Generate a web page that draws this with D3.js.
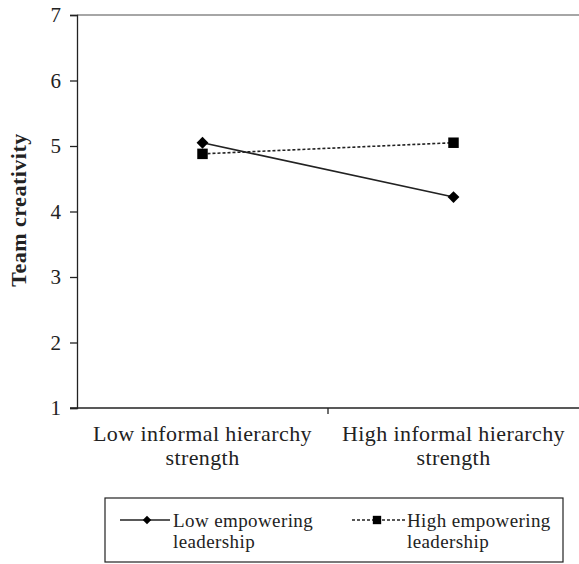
<!DOCTYPE html>
<html><head><meta charset="utf-8">
<script src="https://cdn.jsdelivr.net/npm/d3@7"></script>
<style>body{margin:0;background:#fff}svg{display:block}svg text{font-family:"Liberation Serif","DejaVu Serif",serif}</style>
</head><body>
<script>
const categories = ["Low informal hierarchy strength", "High informal hierarchy strength"];
const categoryLines = [["Low informal hierarchy", "strength"], ["High informal hierarchy", "strength"]];
const lowEmpowering = [5.05, 4.22];
const highEmpowering = [4.88, 5.05];
const seriesNames = [["Low empowering", "leadership"], ["High empowering", "leadership"]];
const yTicks = [1, 2, 3, 4, 5, 6, 7];

const W = 579, H = 564;
const svg = d3.select("body").append("svg").attr("width", W).attr("height", H);
const font = "Liberation Serif, DejaVu Serif, serif";
const pLeft = 77, pRight = 579, pTop = 15, pBottom = 408;

const x = d3.scaleBand().domain(categories).range([pLeft, pRight]);
const y = d3.scaleLinear().domain([1, 7]).range([pBottom, pTop]);

svg.append("line").attr("x1", pLeft).attr("x2", pRight).attr("y1", y(7)).attr("y2", y(7))
  .attr("stroke", "#888").attr("stroke-width", 1.5);

const yAxis = svg.append("g").attr("transform", `translate(${pLeft},0)`)
  .call(d3.axisLeft(y).tickValues(yTicks).tickSize(7).tickPadding(9).tickFormat(d3.format("d")));
yAxis.attr("font-family", null);
yAxis.select(".domain").attr("stroke", "#222").attr("stroke-width", 1.3);
yAxis.selectAll(".tick line").attr("stroke", "#222").attr("stroke-width", 1.3);
yAxis.selectAll("text").style("font-family", font).attr("font-size", 21).attr("fill", "#222");

svg.append("line").attr("x1", pLeft - 7).attr("x2", pRight).attr("y1", pBottom).attr("y2", pBottom)
  .attr("stroke", "#222").attr("stroke-width", 1.3);
categories.slice(1).forEach(c => {
  svg.append("line").attr("x1", x(c)).attr("x2", x(c)).attr("y1", pBottom).attr("y2", pBottom + 6)
    .attr("stroke", "#222").attr("stroke-width", 1.3);
});
categories.forEach((c, i) => {
  const t = svg.append("text").attr("x", x(c) + x.bandwidth() / 2).attr("y", 441)
    .attr("text-anchor", "middle").style("font-family", font).attr("font-size", 22)
    .attr("letter-spacing", 0.4).attr("fill", "#222");
  categoryLines[i].forEach((ln, j) => t.append("tspan").attr("x", x(c) + x.bandwidth() / 2).attr("dy", j ? 24 : 0).text(ln));
});

svg.append("text").attr("transform", `translate(26,210) rotate(-90)`)
  .attr("text-anchor", "middle").style("font-family", font).attr("font-size", 22).attr("font-weight", "bold")
  .attr("letter-spacing", 0.5).attr("fill", "#222").text("Team creativity");

const cx = c => x(c) + x.bandwidth() / 2;
const line = d3.line().x((d, i) => cx(categories[i])).y(d => y(d));

svg.append("path").datum(lowEmpowering).attr("d", line).attr("fill", "none")
  .attr("stroke", "#222").attr("stroke-width", 1.6);
svg.append("path").datum(highEmpowering).attr("d", line).attr("fill", "none")
  .attr("stroke", "#222").attr("stroke-width", 1.6).attr("stroke-dasharray", "3,2");

const diamond = d3.symbol().type(d3.symbolSquare).size(70);
const square = d3.symbol().type(d3.symbolSquare).size(110);
svg.selectAll(".dm").data(lowEmpowering).enter().append("path")
  .attr("d", diamond).attr("fill", "#000")
  .attr("transform", (d, i) => `translate(${cx(categories[i])},${y(d)}) rotate(45)`);
svg.selectAll(".sq").data(highEmpowering).enter().append("path")
  .attr("d", square).attr("fill", "#000")
  .attr("transform", (d, i) => `translate(${cx(categories[i])},${y(d)})`);

svg.append("rect").attr("x", 105).attr("y", 498).attr("width", 458).attr("height", 64)
  .attr("fill", "none").attr("stroke", "#222").attr("stroke-width", 1.2);
svg.append("line").attr("x1", 120).attr("x2", 170).attr("y1", 520).attr("y2", 520).attr("stroke", "#222").attr("stroke-width", 1.6);
svg.append("path").attr("d", d3.symbol().type(d3.symbolSquare).size(36)).attr("fill", "#000").attr("transform", "translate(147,520) rotate(45)");
svg.append("line").attr("x1", 352).attr("x2", 405).attr("y1", 520).attr("y2", 520).attr("stroke", "#222").attr("stroke-width", 1.3).attr("stroke-dasharray", "3,2");
svg.append("path").attr("d", d3.symbol().type(d3.symbolSquare).size(70)).attr("fill", "#000").attr("transform", "translate(377,520)");
[[173, seriesNames[0]], [407, seriesNames[1]]].forEach(([lx, names]) => {
  const t = svg.append("text").attr("x", lx).attr("y", 527).style("font-family", font).attr("font-size", 19)
    .attr("letter-spacing", 0.4).attr("fill", "#222");
  names.forEach((n, j) => t.append("tspan").attr("x", lx).attr("dy", j ? 21 : 0).text(n));
});
</script>
</body></html>
